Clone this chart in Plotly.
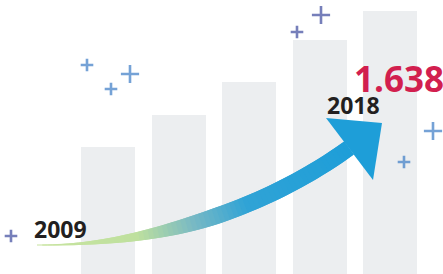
import numpy as np
import plotly.graph_objects as go

# ---- data ----
bar_index = [0, 1, 2, 3, 4]
bar_heights = [127, 159, 192, 234, 263]
start_label = "2009"
end_label = "2018"
end_value = "1.638"

# decoration (pixel space) definitions
plus_x = [87, 130, 111, 11, 297, 321, 433, 404]
plus_y = [65, 74, 89, 236, 32, 15, 131, 162]
plus_size = [9, 13, 9, 9, 9, 13, 13, 9]
plus_color = ["#3b7cc6", "#3b7cc6", "#3b7cc6", "#3d4a9e", "#3d4a9e", "#3d4a9e", "#3b7cc6", "#3b7cc6"]

W, H = 443, 274

fig = go.Figure()

fig.add_trace(go.Bar(
    x=bar_index, y=bar_heights, width=0.766,
    marker=dict(color="#eceef0", line=dict(width=0)),
    hoverinfo="skip", showlegend=False,
))

# ---- curved gradient arrow (pixel coordinates on overlay axes) ----
P0 = np.array([37.0, 245.0])
C1 = np.array([160.0, 246.0])
C2 = np.array([270.0, 205.0])
P3 = np.array([349.0, 148.0])

def bez(u):
    return ((1-u)**3)[:, None]*P0 + (3*u*(1-u)**2)[:, None]*C1 + (3*u**2*(1-u))[:, None]*C2 + (u**3)[:, None]*P3

def dbez(u):
    return (3*(1-u)**2)[:, None]*(C1-P0) + (6*u*(1-u))[:, None]*(C2-C1) + (3*u**2)[:, None]*(P3-C2)

N = 70
u = np.linspace(0, 1, N+1)
pts = bez(u)
tan = dbez(u)
tan = tan/np.linalg.norm(tan, axis=1)[:, None]
nrm = np.stack([-tan[:, 1], tan[:, 0]], axis=1)
x_ = np.clip(u/0.55, 0, 1)
width = 0.8 + 15.5*(3*x_**2 - 2*x_**3)
upper = pts + nrm*(width/2)[:, None]
lower = pts - nrm*(width/2)[:, None]

stops = [(0.0, (200, 228, 160)), (0.28, (190, 224, 158)), (0.45, (120, 185, 196)),
         (0.62, (48, 163, 214)), (1.0, (30, 158, 216))]

def col(t):
    for (a, ca), (b, cb) in zip(stops[:-1], stops[1:]):
        if a <= t <= b:
            f = (t-a)/(b-a)
            c = [round(ca[i] + (cb[i]-ca[i])*f) for i in range(3)]
            return "rgb(%d,%d,%d)" % tuple(c)
    return "rgb(30,158,216)"

shapes = []
for i in range(N):
    j = min(i+2, N)
    poly = [upper[i], upper[j], lower[j], lower[i]]
    path = "M " + " L ".join("%.2f,%.2f" % (p[0], p[1]) for p in poly) + " Z"
    c = col((u[i]+u[i+1])/2)
    shapes.append(dict(type="path", path=path, xref="x2", yref="y2",
                       fillcolor=c, line=dict(width=0), layer="above"))

# arrow head
head_base_a = np.array([326.0, 118.0])
head_tip = np.array([382.0, 123.0])
head_base_b = np.array([373.0, 180.0])
hp = "M %.1f,%.1f L %.1f,%.1f L %.1f,%.1f Z" % (head_base_a[0], head_base_a[1], head_tip[0], head_tip[1], head_base_b[0], head_base_b[1])
shapes.append(dict(type="path", path=hp, xref="x2", yref="y2",
                   fillcolor="rgb(30,158,216)", line=dict(width=0), layer="above"))

# plus signs
fig.add_trace(go.Scatter(
    x=plus_x, y=plus_y, xaxis="x2", yaxis="y2", mode="markers",
    marker=dict(symbol="cross-thin", size=plus_size, color=plus_color,
                line=dict(width=2.6, color=plus_color)),
    hoverinfo="skip", showlegend=False,
))

annotations = [
    dict(text="<b>%s</b>" % start_label, x=60, y=229, xref="x2", yref="y2",
         showarrow=False, font=dict(family="Open Sans", size=23, color="#231f20"),
         xanchor="center", yanchor="middle"),
    dict(text="<b>%s</b>" % end_label, x=353.5, y=105, xref="x2", yref="y2",
         showarrow=False, font=dict(family="Open Sans", size=23, color="#231f20"),
         xanchor="center", yanchor="middle"),
    dict(text="<b>%s</b>" % end_value, x=398.5, y=78.5, xref="x2", yref="y2",
         showarrow=False, font=dict(family="Open Sans", size=35, color="#d21f4f"),
         xanchor="center", yanchor="middle"),
]

fig.update_layout(
    width=W, height=H,
    margin=dict(l=0, r=0, t=0, b=0),
    paper_bgcolor="white", plot_bgcolor="white",
    xaxis=dict(range=[-108/70.5, (W-108)/70.5], visible=False, fixedrange=True),
    yaxis=dict(range=[0, H], visible=False, fixedrange=True),
    xaxis2=dict(range=[0, W], overlaying="x", visible=False, fixedrange=True),
    yaxis2=dict(range=[H, 0], overlaying="y", visible=False, fixedrange=True),
    shapes=shapes, annotations=annotations,
    bargap=0, showlegend=False,
)

fig.write_html("out.html", config={"displayModeBar": False},
               post_script="document.body.style.margin='0';document.body.style.overflow='hidden';")
